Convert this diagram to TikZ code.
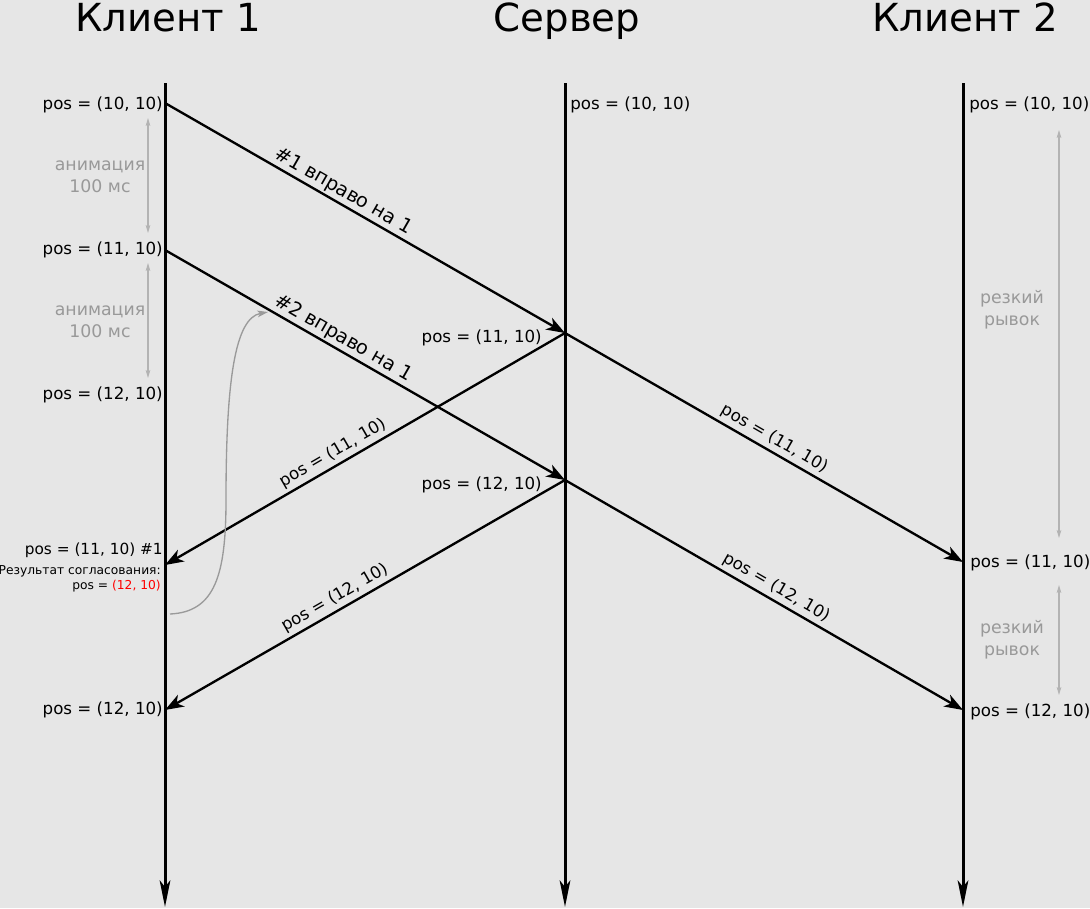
\documentclass[tikz,border=0pt]{standalone}
\usepackage{fontspec}
\setmainfont{DejaVu Sans}
\usetikzlibrary{arrows.meta}
\definecolor{bg}{HTML}{E6E6E6}
\definecolor{gtext}{HTML}{999999}
\definecolor{garrow}{HTML}{B3B3B3}
\definecolor{gcurve}{HTML}{9A9A9A}
\definecolor{redtxt}{HTML}{FF0000}
\begin{document}
\begin{tikzpicture}[x=0.75pt,y=-0.75pt,
  title/.style={font=\fontsize{29}{34}\selectfont, inner sep=0pt, anchor=base},
  plbl/.style={font=\fontsize{12.5}{15}\selectfont, inner sep=0pt},
  slbl/.style={font=\fontsize{9.2}{11}\selectfont, inner sep=0pt},
  rlbl/.style={font=\fontsize{12.5}{15}\selectfont, inner sep=2.5pt, sloped, above},
  mlbl/.style={font=\fontsize{14.5}{17}\selectfont, inner sep=1.5pt, sloped, above},
  glbl/.style={font=\fontsize{13}{16.5}\selectfont, text=gtext, align=center, inner sep=0pt},
  life/.style={line width=2.25pt, -{Stealth[length=20pt, width=8pt, inset=5pt]}},
  msg/.style={line width=1.75pt},
  msgtip/.tip={Stealth[length=14pt, width=10pt, inset=4pt]},
  gtip/.tip={Stealth[length=6pt,width=3.5pt,inset=1.5pt]},
  gar/.style={draw=garrow, line width=0.8pt, {gtip}-{gtip}},
]
\fill[bg] (0,0) rectangle (1090,908);
\useasboundingbox (0,0) rectangle (1090,908);

% titles
\node[title] (t1) at (168,31) {Клиент 1};
\node[title] (t2) at (567,31) {Сервер};
\node[title] (t3) at (965,31) {Клиент 2};

% lifelines
\coordinate (c1top) at (165,83);
\coordinate (c1bot) at (165,907);
\coordinate (stop) at (565,83);
\coordinate (sbot) at (565,907);
\coordinate (c2top) at (963,83);
\coordinate (c2bot) at (963,907);
\draw[life] (c1top) -- (c1bot);
\draw[life] (stop) -- (sbot);
\draw[life] (c2top) -- (c2bot);

% message points
\coordinate (a1) at (165,103);
\coordinate (a2) at (165,250);
\coordinate (a3) at (165,565);
\coordinate (a4) at (165,710);
\coordinate (s1) at (565,333);
\coordinate (s2) at (565,480);
\coordinate (b1) at (963,562);
\coordinate (b2) at (963,710);

\draw[msg, -{msgtip}] (a1) -- node[mlbl, pos=0.43] {\#1 вправо на 1} (s1);
\draw[msg, -{msgtip}] (a2) -- node[mlbl, pos=0.43] {\#2 вправо на 1} (s2);
\draw[msg, {msgtip}-] (a3) -- node[rlbl, pos=0.435] {pos = (11, 10)} (s1);
\draw[msg, -{msgtip}] (s1) -- node[rlbl, pos=0.51] {pos = (11, 10)} (b1);
\draw[msg, {msgtip}-] (a4) -- node[rlbl, pos=0.44] {pos = (12, 10)} (s2);
\draw[msg, -{msgtip}] (s2) -- node[rlbl, pos=0.515] {pos = (12, 10)} (b2);

% client 1 labels
\node[plbl, anchor=east] (l1) at (163,105) {pos = (10, 10)};
\node[plbl, anchor=east] (l2) at (163,250) {pos = (11, 10)};
\node[plbl, anchor=east] (l3) at (163,395) {pos = (12, 10)};
\node[plbl, anchor=east, font=\fontsize{11.5}{14}\selectfont] (l4) at (163,550) {pos = (11, 10) \#1};
\node[slbl, anchor=east] (l5) at (161,571) {Результат согласования:};
\node[slbl, anchor=east] (l6) at (161,586) {pos = \textcolor{redtxt}{(12, 10)}};
\node[plbl, anchor=east] (l7) at (163,710) {pos = (12, 10)};

% server labels
\node[plbl, anchor=west] (m1) at (570,105) {pos = (10, 10)};
\node[plbl, anchor=east] (m2) at (542,338) {pos = (11, 10)};
\node[plbl, anchor=east] (m3) at (542,485) {pos = (12, 10)};

% client 2 labels
\node[plbl, anchor=west] (r1) at (969,105) {pos = (10, 10)};
\node[plbl, anchor=west] (r2) at (970,563) {pos = (11, 10)};
\node[plbl, anchor=west] (r3) at (970,712) {pos = (12, 10)};

% grey annotations
\node[glbl] (g1) at (100,177) {анимация\\100 мс};
\node[glbl] (g2) at (100,322) {анимация\\100 мс};
\node[glbl] (g3) at (1012,310) {резкий\\рывок};
\node[glbl] (g4) at (1012,640) {резкий\\рывок};

\coordinate (ga1) at (148,118);
\coordinate (ga2) at (148,233);
\coordinate (ga3) at (148,263);
\coordinate (ga4) at (148,378);
\coordinate (gb1) at (1059,130);
\coordinate (gb2) at (1059,538);
\coordinate (gb3) at (1059,585);
\coordinate (gb4) at (1059,695);
\draw[gar] (ga1) -- (ga2);
\draw[gar] (ga3) -- (ga4);
\draw[gar] (gb1) -- (gb2);
\draw[gar] (gb3) -- (gb4);

% grey curve
\coordinate (cv1) at (170,614);
\coordinate (cvm) at (226,500);
\coordinate (cv2) at (268,312);
\draw[draw=gcurve, line width=1pt, -{Stealth[length=8pt,width=5pt,inset=2pt]}]
  (cv1) .. controls (215,612) and (226,575) .. (cvm)
        .. controls (226,380) and (235,318) .. (cv2);
\end{tikzpicture}
\end{document}
